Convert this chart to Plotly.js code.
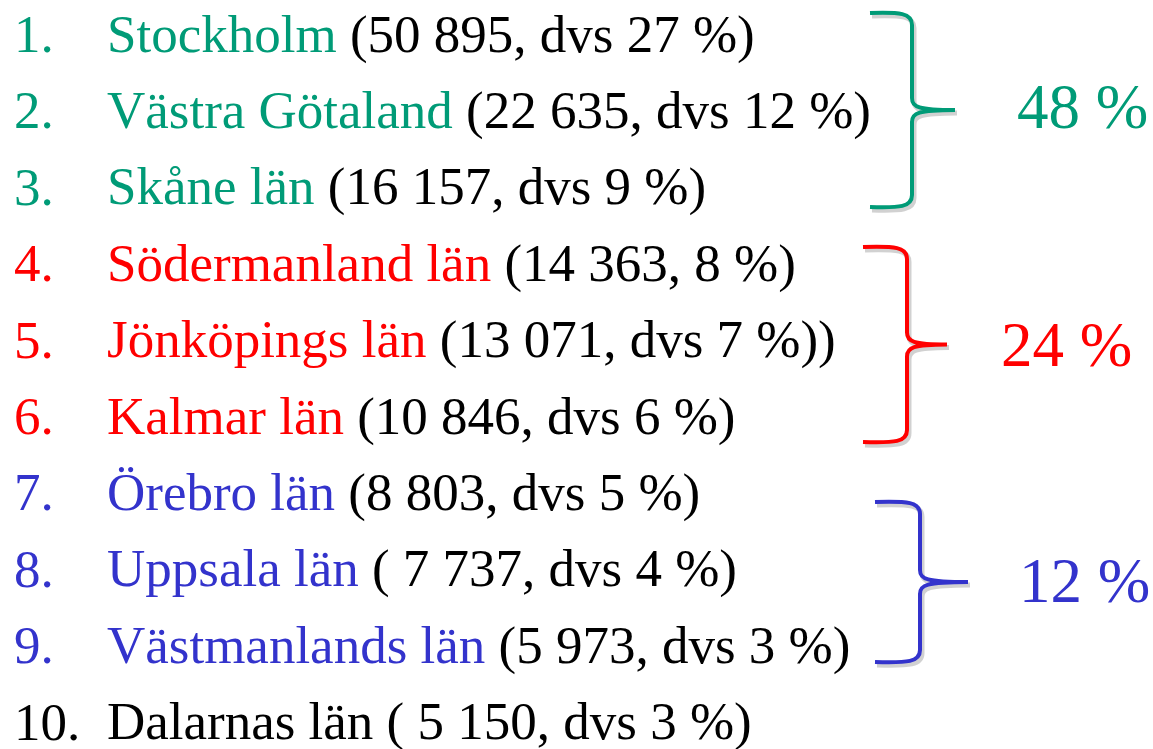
<!DOCTYPE html>
<html>
<head>
<meta charset="utf-8">
<script src="https://cdn.plot.ly/plotly-3.0.1.min.js"></script>
<style>html,body{margin:0;padding:0;background:#fff;}#chart{width:1153px;height:749px;}</style>
</head>
<body>
<div id="chart"></div>
<script>
// ---- data ----
const ranks = ["1.", "2.", "3.", "4.", "5.", "6.", "7.", "8.", "9.", "10."];
const names = ["Stockholm", "Västra Götaland", "Skåne län", "Södermanland län", "Jönköpings län",
               "Kalmar län", "Örebro län", "Uppsala län", "Västmanlands län", "Dalarnas län"];
const counts = [50895, 22635, 16157, 14363, 13071, 10846, 8803, 7737, 5973, 5150];
const shares = [27, 12, 9, 8, 7, 6, 5, 4, 3, 3];
// text pattern of each parenthesis, exactly as written on the slide
const templates = ["({n}, dvs {p} %)", "({n}, dvs {p} %)", "({n}, dvs {p} %)", "({n}, {p} %)",
                   "({n}, dvs {p} %))", "({n}, dvs {p} %)", "({n}, dvs {p} %)", "( {n}, dvs {p} %)",
                   "({n}, dvs {p} %)", "( {n}, dvs {p} %)"];
const rowGroup = [0, 0, 0, 1, 1, 1, 2, 2, 2, -1];
const groupTotals = [48, 24, 12];
const groupColors = ["#009B77", "#FF0000", "#3333CC"];

// ---- layout helpers ----
const FONT = '"Liberation Serif", "Times New Roman", serif';
const rowY = i => 34 + i * 76.4;
function fmt(n) { return String(n).replace(/\B(?=(\d{3})+(?!\d))/g, " "); }

const annotations = [];
names.forEach((name, i) => {
  const col = rowGroup[i] >= 0 ? groupColors[rowGroup[i]] : "#000000";
  const detail = templates[i].replace("{n}", fmt(counts[i])).replace("{p}", shares[i]);
  annotations.push({x: 12, y: rowY(i), xref: "x", yref: "y", text: ranks[i], showarrow: false,
    xanchor: "left", yanchor: "middle", font: {family: FONT, size: 53, color: col}});
  annotations.push({x: 105, y: rowY(i), xref: "x", yref: "y",
    text: '<span style="color:' + col + '">' + name + '</span> ' + detail,
    showarrow: false, xanchor: "left", yanchor: "middle",
    font: {family: FONT, size: 53, color: "#000000"}});
});

// braces geometry and label x positions
const braceGeom = [
  {l: 870, s: 912, t: 955, top: 13, bot: 207, lx: 1015, ly: 107},
  {l: 863, s: 907, t: 947, top: 247, bot: 442, lx: 999, ly: 345},
  {l: 875, s: 920, t: 968, top: 502, bot: 662, lx: 1017, ly: 581}
];
const shapes = [];
braceGeom.forEach((b, g) => {
  const m = (b.top + b.bot) / 2;
  const path = (dx, dy) => {
    const L = b.l + dx, S = b.s + dx, T = b.t + dx, A = b.top + dy, B = b.bot + dy, M = m + dy;
    return `M${L},${A} C${S - 12},${A - 1} ${S},${A} ${S},${A + 12} L${S},${M - 12} ` +
           `C${S},${M - 3} ${S + 6},${M} ${T},${M} C${S + 6},${M} ${S},${M + 3} ${S},${M + 12} ` +
           `L${S},${B - 12} C${S},${B} ${S - 12},${B + 1} ${L},${B}`;
  };
  shapes.push({type: "path", xref: "x", yref: "y", path: path(2, 3),
    line: {color: "rgba(0,0,0,0.18)", width: 5}});
  shapes.push({type: "path", xref: "x", yref: "y", path: path(0, 0),
    line: {color: groupColors[g], width: 4}});
  annotations.push({x: b.lx, y: b.ly, xref: "x", yref: "y", text: groupTotals[g] + " %",
    showarrow: false, xanchor: "left", yanchor: "middle",
    font: {family: FONT, size: 63, color: groupColors[g]}});
});

const layout = {
  width: 1153, height: 749,
  margin: {l: 0, r: 0, t: 0, b: 0},
  paper_bgcolor: "#ffffff", plot_bgcolor: "#ffffff",
  xaxis: {range: [0, 1153], visible: false, fixedrange: true},
  yaxis: {range: [749, 0], visible: false, fixedrange: true},
  showlegend: false,
  annotations: annotations,
  shapes: shapes
};
Plotly.newPlot("chart", [{x: [], y: [], type: "scatter"}], layout, {staticPlot: true, displayModeBar: false});
</script>
</body>
</html>
